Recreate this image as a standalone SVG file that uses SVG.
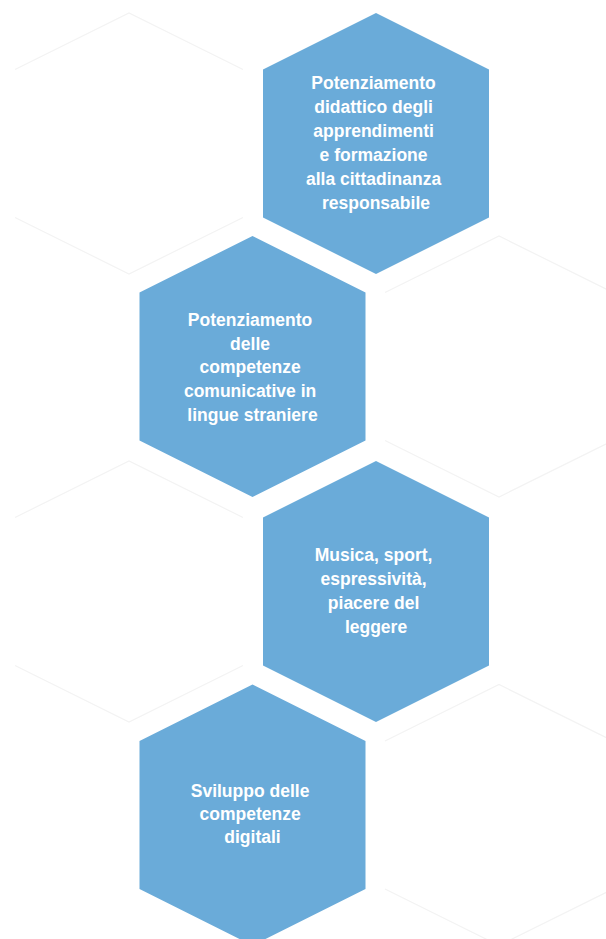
<svg xmlns="http://www.w3.org/2000/svg" xmlns:xlink="http://www.w3.org/1999/xlink" width="606" height="939" viewBox="0 0 606 939">
  <style>
    .blue { fill: #6aabd9; }
    .ghost { fill: none; stroke: #f3f3f3; stroke-width: 1.2; }
    .lbl { font-family: "Liberation Sans", Arial, sans-serif; font-weight: bold; font-size: 17.5px; fill: #ffffff; text-anchor: middle; }
  </style>
  <defs>
    <polygon id="hex" points="0,-130.5 113,-74 113,74 0,130.5 -113,74 -113,-74"/>
    <path id="ghex" d="M-114,-74 L0,-130.5 L114,-74 M-114,74 L0,130.5 L114,74"/>
  </defs>
  <rect x="0" y="0" width="606" height="939" fill="#ffffff"/>

  <g id="background-hexagons">
    <use xlink:href="#ghex" href="#ghex" class="ghost" x="129" y="143.5"/>
    <use xlink:href="#ghex" href="#ghex" class="ghost" x="129" y="591.5"/>
    <use xlink:href="#ghex" href="#ghex" class="ghost" x="499" y="366.5"/>
    <use xlink:href="#ghex" href="#ghex" class="ghost" x="499" y="815"/>
  </g>

  <g id="connectors"></g>

  <g id="node1">
    <use xlink:href="#hex" href="#hex" class="blue" x="376" y="143.5"/>
    <text class="lbl">
      <tspan x="376" y="89">Potenziamento</tspan>
      <tspan x="376" y="113">didattico degli</tspan>
      <tspan x="376" y="137">apprendimenti</tspan>
      <tspan x="376" y="161">e formazione</tspan>
      <tspan x="376" y="185">alla cittadinanza</tspan>
      <tspan x="376" y="209">responsabile</tspan>
    </text>
  </g>

  <g id="node2">
    <use xlink:href="#hex" href="#hex" class="blue" x="252.5" y="366.5"/>
    <text class="lbl">
      <tspan x="252.5" y="326">Potenziamento</tspan>
      <tspan x="252.5" y="350">delle</tspan>
      <tspan x="252.5" y="373">competenze</tspan>
      <tspan x="252.5" y="397">comunicative in</tspan>
      <tspan x="252.5" y="421">lingue straniere</tspan>
    </text>
  </g>

  <g id="node3">
    <use xlink:href="#hex" href="#hex" class="blue" x="376" y="591.5"/>
    <text class="lbl">
      <tspan x="376" y="561">Musica, sport,</tspan>
      <tspan x="376" y="585">espressività,</tspan>
      <tspan x="376" y="609">piacere del</tspan>
      <tspan x="376" y="633">leggere</tspan>
    </text>
  </g>

  <g id="node4">
    <use xlink:href="#hex" href="#hex" class="blue" x="252.5" y="815"/>
    <text class="lbl">
      <tspan x="252.5" y="797">Sviluppo delle</tspan>
      <tspan x="252.5" y="820">competenze</tspan>
      <tspan x="252.5" y="843">digitali</tspan>
    </text>
  </g>
</svg>
